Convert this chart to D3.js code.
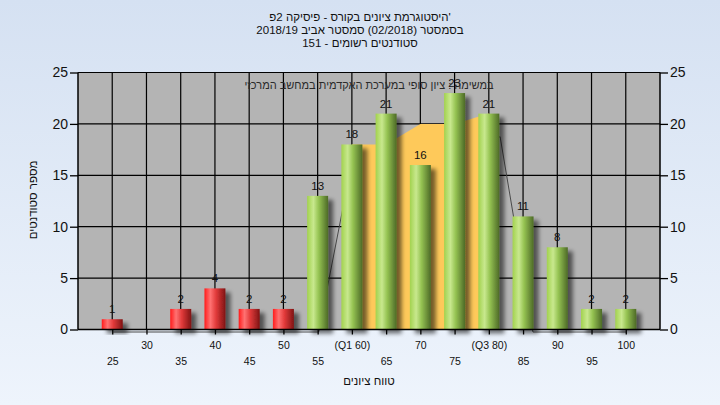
<!DOCTYPE html>
<html><head><meta charset="utf-8">
<script src="https://cdn.jsdelivr.net/npm/d3@7"></script>
<style>
html,body{margin:0;padding:0;}
svg{display:block;font-family:"Liberation Sans",Arial,sans-serif;}
</style></head>
<body>
<svg id="c" width="720" height="405"></svg>
<script>
// ---- data ----
const categories = [25,30,35,40,45,50,55,60,65,70,75,80,85,90,95,100];
const counts     = [1,0,2,4,2,2,13,18,21,16,23,21,11,8,2,2];
const tickLabels = ["25","30","35","40","45","50","55","(Q1 60)","65","70","75","(Q3 80)","85","90","95","100"];
const passMark = 55;
const iqrX = [60,65,70,75,80];
const iqrY = [18,18,20,20,21];
const lineX = [25,55,60,75,81.5,86.3,100];
const lineY = [0,0,17,17,19,0,0];
const yTicks = [0,5,10,15,20,25];
const titleLines = ["היסטוגרמת ציונים בקורס - פיסיקה 2פ'", "בסמסטר  (02/2018)  סמסטר אביב 2018/19", "סטודנטים רשומים - 151"];
const noteText = "במשימה : ציון סופי במערכת האקדמית במחשב המרכזי";
const yTitle = "מספר סטודנטים";
const xTitle = "טווח ציונים";

// ---- layout ----
const svg = d3.select("#c");
const L = 78, R = 660, T = 72.5, B = 329.5;
const x = d3.scaleLinear().domain([20,105]).range([L,R]);
const y = d3.scaleLinear().domain([0,25]).range([B,T]);
const barW = 21;

const defs = svg.append("defs");
const bg = defs.append("linearGradient").attr("id","bg").attr("x1",0).attr("y1",0).attr("x2",0).attr("y2",1);
bg.append("stop").attr("offset","0%").attr("stop-color","#d5e1f2");
bg.append("stop").attr("offset","100%").attr("stop-color","#eef4fc");
function hgrad(id, stops){
  const g = defs.append("linearGradient").attr("id",id).attr("x1",0).attr("y1",0).attr("x2",1).attr("y2",0);
  stops.forEach(s=>g.append("stop").attr("offset",s[0]).attr("stop-color",s[1]));
}
hgrad("red",[["0%","#ff1c1c"],["28%","#ff7272"],["55%","#e23a3a"],["100%","#7e1414"]]);
hgrad("green",[["0%","#a2d24e"],["30%","#c8e88e"],["55%","#95c352"],["100%","#4d6a27"]]);
const f = defs.append("filter").attr("id","sh").attr("x","-30%").attr("y","-30%").attr("width","180%").attr("height","180%");
f.append("feGaussianBlur").attr("in","SourceAlpha").attr("stdDeviation",2.2).attr("result","b");
f.append("feOffset").attr("in","b").attr("dx",5).attr("dy",4).attr("result","o");
f.append("feComponentTransfer").attr("in","o").attr("result","o2").append("feFuncA").attr("type","linear").attr("slope",0.55);
const m = f.append("feMerge"); m.append("feMergeNode").attr("in","o2"); m.append("feMergeNode").attr("in","SourceGraphic");

svg.append("rect").attr("width",720).attr("height",405).attr("fill","url(#bg)");
svg.append("rect").attr("x",L).attr("y",T).attr("width",R-L).attr("height",B-T).attr("fill","#b4b4b4");

// gridlines
svg.append("g").selectAll("line.h").data(yTicks).join("line")
  .attr("x1",L).attr("x2",R).attr("y1",d=>y(d)).attr("y2",d=>y(d)).attr("stroke","#000").attr("stroke-width",1.2);
svg.append("g").selectAll("line.v").data(categories).join("line")
  .attr("x1",d=>x(d)).attr("x2",d=>x(d)).attr("y1",T).attr("y2",B).attr("stroke","#000").attr("stroke-width",1.2);

// thin line series (mostly hidden)
svg.append("path").datum(lineX.map((c,i)=>[c,lineY[i]]))
  .attr("d",d3.line().x(d=>x(d[0])).y(d=>y(d[1])))
  .attr("transform","translate(1,2.5)")
  .attr("fill","none").attr("stroke","#4a4a4a").attr("stroke-width",1);

// interquartile area
svg.append("path").datum(iqrX.map((c,i)=>[c,iqrY[i]]))
  .attr("d",d3.area().x(d=>x(d[0])).y0(y(0)).y1(d=>y(d[1])))
  .attr("fill","#fec95a");

// bars
const data = categories.map((c,i)=>({c,v:counts[i]}));
svg.append("g").selectAll("rect").data(data.filter(d=>d.v>0)).join("rect")
  .attr("x",d=>x(d.c)-barW/2).attr("width",barW)
  .attr("y",d=>y(d.v)).attr("height",d=>y(0)-y(d.v))
  .attr("fill",d=>d.c<passMark?"url(#red)":"url(#green)")
  .attr("filter","url(#sh)");

// axes
const ax = svg.append("g").attr("transform",`translate(${L},0)`).call(d3.axisLeft(y).tickValues(yTicks).tickSize(8).tickPadding(2));
const ax2 = svg.append("g").attr("transform",`translate(${R},0)`).call(d3.axisRight(y).tickValues(yTicks).tickSize(8).tickPadding(2));
[ax,ax2].forEach(a=>{
  a.select(".domain").attr("stroke","#000").attr("stroke-width",1.5).attr("d",`M0,${T}V${B}`);
  a.selectAll(".tick line").attr("stroke","#000").attr("stroke-width",1.3);
  a.selectAll("text").attr("font-size",14).attr("fill","#111").attr("font-family","Liberation Sans, Arial, sans-serif");
});
const bx = svg.append("g").attr("transform",`translate(0,${B})`)
  .call(d3.axisBottom(x).tickValues(categories).tickSize(5).tickFormat((d,i)=>tickLabels[i]));
bx.select(".domain").attr("stroke","#000").attr("stroke-width",1.5).attr("d",`M${L},0H${R}`);
bx.selectAll(".tick line").attr("stroke","#000").attr("stroke-width",1.3);
bx.selectAll("text").attr("font-size",10.5).attr("fill","#111").attr("font-family","Liberation Sans, Arial, sans-serif")
  .attr("y",(d,i)=> i%2===1 ? 12 : 28).attr("dy","0.71em");

// value labels
svg.append("g").selectAll("text").data(data.filter(d=>d.v>0)).join("text")
  .attr("x",d=>x(d.c)).attr("y",d=>y(d.v)-6)
  .attr("text-anchor","middle").attr("font-size",11.5).attr("fill","#111").text(d=>d.v);

// annotation
svg.append("text").attr("x",(L+R)/2).attr("y",89).attr("text-anchor","middle")
  .attr("font-size",11).attr("fill","#2a2a2a").text(noteText);

// titles
svg.append("g").selectAll("text").data(titleLines).join("text")
  .attr("x",360).attr("y",(d,i)=>21+i*13).attr("text-anchor","middle")
  .attr("font-size",11.5).attr("fill","#111").text(d=>d);
svg.append("text").attr("transform",`translate(37,200) rotate(-90)`).attr("text-anchor","middle")
  .attr("font-size",11.5).attr("fill","#111").text(yTitle);
svg.append("text").attr("x",(L+R)/2).attr("y",385).attr("text-anchor","middle")
  .attr("font-size",11.5).attr("fill","#111").text(xTitle);
</script>
</body></html>
